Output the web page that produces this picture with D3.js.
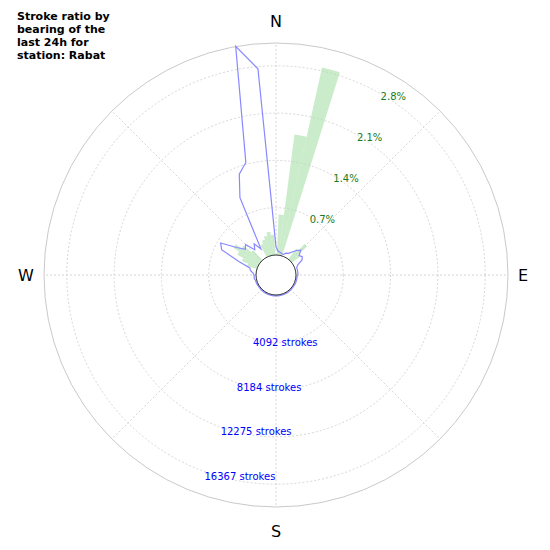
<!DOCTYPE html>
<html><head><meta charset="utf-8">
<script src="https://cdn.jsdelivr.net/npm/d3@7"></script>
<style>body{margin:0;background:#fff}</style></head>
<body><svg id="c" width="550" height="550"></svg>
<script>
// data: bearing (deg) -> strokes / percent
const blueAngles = [0,5,10,15,20,25,30,35,40,45,50,55,60,65,70,75,80,85,90,95,100,105,110,115,120,125,130,135,140,145,150,155,160,165,170,175,180,185,190,195,200,205,210,215,220,225,230,235,240,245,250,255,260,265,270,275,280,285,290,295,300,305,310,315,320,325,330,335,340,345,350,355];
const blueStrokes = [700,350,260,170,170,350,440,700,1040,1300,870,1040,870,350,170,170,170,170,170,100,100,100,100,100,80,80,80,80,80,80,80,80,80,80,80,80,80,80,80,80,80,80,80,80,80,80,80,80,80,100,100,100,170,170,170,260,520,610,1730,3460,3800,2420,1730,2000,1130,1560,870,5650,7560,8350,18350,16180];
const greenAngles = [5,10,15,40,45,50,290,295,300,305,310,315,335,340,345,350,355];
const greenPct = [0.6,1.8,2.85,0.2,0.33,0.15,0.15,0.25,0.35,0.45,0.35,0.2,0.2,0.25,0.3,0.35,0.3];
const strokeTicks = [4092,8184,12275,16367];
const pctTicks = [0.7,1.4,2.1,2.8];
const titleLines = ["Stroke ratio by","bearing of the","last 24h for","station: Rabat"];

const cx = 276, cy = 275, r0 = 20, outer = 232, ring = 47.3;
const svg = d3.select("#c");
const g = svg.append("g").attr("transform", `translate(${cx},${cy})`);
const rS = d3.scaleLinear().domain([0, 4092]).range([r0, r0 + ring]);
const rP = d3.scaleLinear().domain([0, 0.7]).range([r0, r0 + ring]);
const rad = a => a * Math.PI / 180;

// grid
pctTicks.forEach(t => g.append("circle").attr("r", rP(t)).attr("fill", "none")
  .attr("stroke", "#ccc").attr("stroke-dasharray", "2,2").attr("stroke-width", 0.8));
g.append("circle").attr("r", outer).attr("fill", "none").attr("stroke", "#bbb").attr("stroke-width", 0.8);
d3.range(0, 360, 45).forEach(a => g.append("line")
  .attr("x1", r0 * Math.sin(rad(a))).attr("y1", -r0 * Math.cos(rad(a)))
  .attr("x2", outer * Math.sin(rad(a))).attr("y2", -outer * Math.cos(rad(a)))
  .attr("stroke", "#ccc").attr("stroke-dasharray", "2,2").attr("stroke-width", 0.8));

// green wedges
const arc = d3.arc();
greenAngles.forEach((a, i) => g.append("path")
  .attr("d", arc({innerRadius: r0, outerRadius: rP(greenPct[i]), startAngle: rad(a - 2.5), endAngle: rad(a + 2.5)}))
  .attr("fill", "#a8e0a8").attr("opacity", 0.6));

// blue polygon
const line = d3.lineRadial().angle(d => rad(d[0])).radius(d => rS(d[1])).curve(d3.curveLinearClosed);
g.append("path").attr("d", line(blueAngles.map((a, i) => [a, blueStrokes[i]])))
  .attr("fill", "none").attr("stroke", "#8888ff").attr("stroke-width", 1.2);

// inner hole
g.append("circle").attr("r", r0).attr("fill", "#fff").attr("stroke", "#000").attr("stroke-width", 0.8);

// labels
const font = "DejaVu Sans, sans-serif";
pctTicks.forEach(t => {
  const r = rP(t), a = rad(30);
  g.append("text").attr("x", r * Math.sin(a)).attr("y", -r * Math.cos(a) + 6)
    .attr("font-family", font).attr("font-size", 10)
    .attr("fill", "#1a7a1a").text(t.toFixed(1) + "%");
});
strokeTicks.forEach(t => {
  const r = rS(t), a = rad(200);
  g.append("text").attr("x", r * Math.sin(a)).attr("y", -r * Math.cos(a) + 8)
    .attr("font-family", font).attr("font-size", 10)
    .attr("fill", "blue").text(t + " strokes");
});
[["N",0,254],["E",90,247],["S",180,256],["W",270,250]].forEach(([n, a, r]) => {
  g.append("text").attr("x", r * Math.sin(rad(a))).attr("y", -r * Math.cos(rad(a)) + 6)
    .attr("text-anchor", "middle").attr("font-family", font).attr("font-size", 16).text(n);
});
titleLines.forEach((s, i) => svg.append("text").attr("x", 17).attr("y", 20 + i * 13)
  .attr("font-family", font).attr("font-size", 11).attr("font-weight", "bold").text(s));
</script></body></html>
